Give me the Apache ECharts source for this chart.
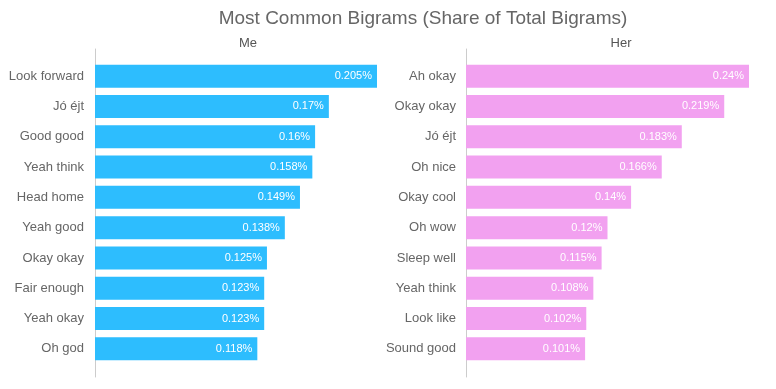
<!DOCTYPE html>
<html><head><meta charset="utf-8">
<script src="https://cdn.jsdelivr.net/npm/echarts@6/dist/echarts.min.js"></script>
<style>html,body{margin:0;padding:0;background:#fff}#c{width:776px;height:389px}</style>
</head><body><div id="c"></div>
<script>
const meCategories = ["Look forward","Jó éjt","Good good","Yeah think","Head home","Yeah good","Okay okay","Fair enough","Yeah okay","Oh god"];
const meValues = [0.205,0.17,0.16,0.158,0.149,0.138,0.125,0.123,0.123,0.118];
const herCategories = ["Ah okay","Okay okay","Jó éjt","Oh nice","Okay cool","Oh wow","Sleep well","Yeah think","Look like","Sound good"];
const herValues = [0.24,0.219,0.183,0.166,0.14,0.12,0.115,0.108,0.102,0.101];

const FONT = "Liberation Sans";
const chart = echarts.init(document.getElementById('c'));
const txt = '#666';
function valueLabel(){
  return {show:true, position:'insideRight', color:'#fff', fontFamily:FONT, fontSize:11, distance:5,
    formatter:p=>p.value+'%'};
}
chart.setOption({
  animation:false,
  title:[
    {text:'Most Common Bigrams (Share of Total Bigrams)', left:418, top:4, textAlign:'center',
     textStyle:{fontFamily:FONT, fontSize:19, fontWeight:'normal', color:'#666'}},
    {text:'Me', left:243, top:32, textAlign:'center', textStyle:{fontFamily:FONT, fontSize:13, fontWeight:'normal', color:'#555'}},
    {text:'Her', left:616, top:32, textAlign:'center', textStyle:{fontFamily:FONT, fontSize:13, fontWeight:'normal', color:'#555'}}
  ],
  grid:[
    {left:95, top:61, width:282, height:303},
    {left:466, top:61, width:283, height:303},
    {left:95, top:49, width:282, height:328},
    {left:466, top:49, width:283, height:328}
  ],
  xAxis:[
    {type:'value', gridIndex:0, min:0, max:'dataMax', show:false},
    {type:'value', gridIndex:1, min:0, max:'dataMax', show:false},
    {type:'value', gridIndex:2, show:false},
    {type:'value', gridIndex:3, show:false}
  ],
  yAxis:[
    {type:'category', gridIndex:0, data:meCategories, inverse:true, axisLine:{show:false}, axisTick:{show:false},
     axisLabel:{color:txt, fontFamily:FONT, fontSize:13, margin:11}},
    {type:'category', gridIndex:1, data:herCategories, inverse:true, axisLine:{show:false}, axisTick:{show:false},
     axisLabel:{color:txt, fontFamily:FONT, fontSize:13, margin:10}},
    {type:'value', gridIndex:2, axisLine:{show:true, lineStyle:{color:'#ccc', width:1}}, axisTick:{show:false}, axisLabel:{show:false}, splitLine:{show:false}},
    {type:'value', gridIndex:3, axisLine:{show:true, lineStyle:{color:'#ccc', width:1}}, axisTick:{show:false}, axisLabel:{show:false}, splitLine:{show:false}}
  ],
  series:[
    {type:'bar', xAxisIndex:0, yAxisIndex:0, data:meValues, barWidth:23, itemStyle:{color:'#2DBDFE'}, label:valueLabel()},
    {type:'bar', xAxisIndex:1, yAxisIndex:1, data:herValues, barWidth:23, itemStyle:{color:'#F2A1F0'}, label:valueLabel()}
  ]
});
</script></body></html>
